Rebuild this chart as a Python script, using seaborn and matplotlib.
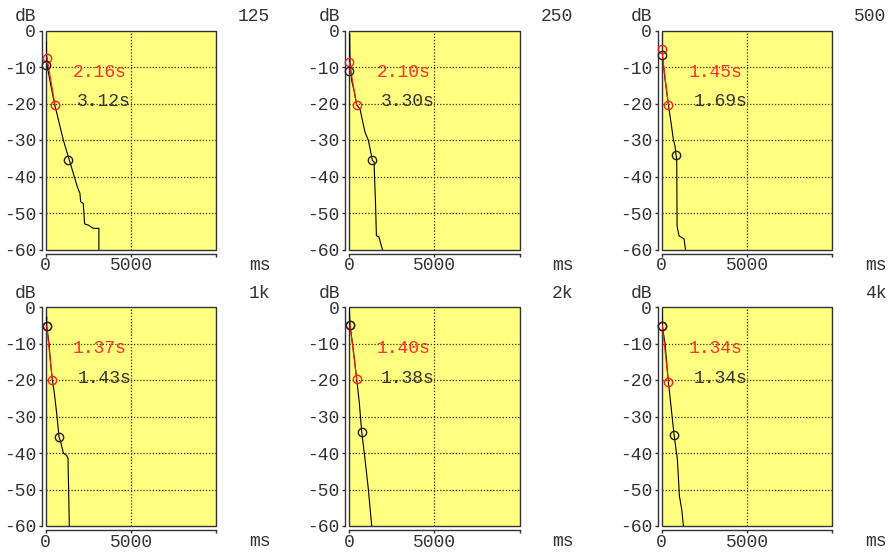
import matplotlib
matplotlib.use("Agg")
import matplotlib.pyplot as plt
import seaborn as sns

# octave bands and the two decay times printed in each panel
bands = ['125', '250', '500', '1k', '2k', '4k']
edt_s = [2.16, 2.10, 1.45, 1.37, 1.40, 1.34]
t30_s = [3.12, 3.30, 1.69, 1.43, 1.38, 1.34]

# decay curves (ms, dB)
ms_125 = [20, 80, 300, 507, 1034, 1326, 1618, 1852, 2008, 2047, 2204, 2243, 2282, 2496, 2789, 3120, 3120]
db_125 = [-3.0, -9.5, -15.0, -19.9, -30.0, -34.6, -39.1, -42.8, -44.6, -46.9, -47.4, -50.1, -53.0, -53.3, -54.2, -54.2, -60.0]
ms_250 = [39, 59, 157, 314, 451, 647, 745, 941, 1137, 1274, 1372, 1470, 1509, 1548, 1607, 1764, 1862, 1960]
db_250 = [-0.9, -8.7, -13.7, -16.9, -20.4, -21.5, -23.7, -27.9, -30.1, -33.3, -35.6, -36.0, -41.6, -46.1, -56.2, -56.6, -58.4, -60.0]
ms_500 = [0, 0, 39, 196, 392, 549, 686, 784, 843, 882, 902, 1019, 1313, 1392]
db_500 = [-0.2, -5.2, -6.6, -13.4, -20.3, -25.3, -29.9, -31.7, -34.2, -35.3, -53.6, -56.3, -57.1, -60.0]
ms_1k = [58, 58, 195, 292, 390, 507, 644, 780, 897, 1034, 1228, 1306, 1345, 1384]
db_1k = [-2.7, -5.2, -10.0, -15.5, -20.0, -23.6, -29.1, -35.5, -37.3, -40.0, -40.7, -41.4, -50.0, -60.0]
ms_2k = [20, 59, 255, 451, 608, 745, 941, 1137, 1333]
db_2k = [-0.5, -5.0, -11.8, -19.7, -26.4, -34.2, -41.8, -50.0, -60.0]
ms_4k = [0, 39, 196, 392, 549, 725, 921, 1039, 1176, 1274]
db_4k = [-0.9, -5.2, -10.0, -20.5, -27.3, -35.0, -41.8, -51.8, -55.5, -60.0]

# red (EDT) and black (T30) evaluation points
red_ms = [[78, 546], [20, 451], [0, 392], [58, 390], [59, 451], [39, 392]]
red_db = [[-7.4, -20.4], [-8.7, -20.4], [-5.2, -20.3], [-5.2, -20.0], [-5.0, -19.7], [-5.2, -20.5]]
blk_ms = [[20, 1326], [20, 1372], [39, 843], [58, 780], [59, 745], [39, 725]]
blk_db = [[-9.5, -35.5], [-11.0, -35.6], [-6.6, -34.2], [-5.2, -35.5], [-5.0, -34.2], [-5.2, -35.0]]

curves_ms = [ms_125, ms_250, ms_500, ms_1k, ms_2k, ms_4k]
curves_db = [db_125, db_250, db_500, db_1k, db_2k, db_4k]

sns.set_style("ticks")
plt.rcParams['font.family'] = ['Liberation Mono', 'DejaVu Sans Mono']
plt.rcParams['font.size'] = 13

W, H = 892, 553
fig = plt.figure(figsize=(W / 100, H / 100), dpi=100)
fig.patch.set_facecolor('white')

col_left = [45.7, 349.0, 661.7]
row_top = [30.5, 307.0]
ax_w, ax_h = 170.5, 219.0
txt = '#333333'

for i, band in enumerate(bands):
    r, c = divmod(i, 3)
    x0, y0 = col_left[c], row_top[r]
    ax = fig.add_axes([x0 / W, 1 - (y0 + ax_h) / H, ax_w / W, ax_h / H])
    ax.set_facecolor('#ffff80')
    ax.patch.set_edgecolor('#333333')
    ax.patch.set_linewidth(1.0)

    ax.set_xlim(0, 10000)
    ax.set_ylim(-60, 0)
    ax.set_xticks([0, 5000, 10000])
    ax.set_xticklabels(['0', '5000', ''])
    ax.set_yticks([0, -10, -20, -30, -40, -50, -60])
    ax.set_yticklabels(['0', '-10', '-20', '-30', '-40', '-50', '-60'])
    for y in [-10, -20, -30, -40, -50]:
        ax.axhline(y, color='#333300', ls=(0, (1, 1.5)), lw=0.9, zorder=1)
    ax.axvline(5000, color='#333300', ls=(0, (1, 1.5)), lw=0.9, zorder=1)

    sns.lineplot(x=curves_ms[i], y=curves_db[i], ax=ax, sort=False, estimator=None,
                 color='black', lw=0.8, zorder=3)
    sns.lineplot(x=red_ms[i], y=red_db[i], ax=ax, sort=False, estimator=None,
                 color='#ff2020', lw=0.8, zorder=4)
    ax.plot(red_ms[i], red_db[i], 'o', ms=6, mfc='none', mec='#ff2020', mew=1, zorder=5, clip_on=False)
    ax.plot(blk_ms[i], blk_db[i], 'o', ms=6, mfc='none', mec='#222222', mew=1, zorder=5, clip_on=False)

    ax.text(1600, -11.5, f'{edt_s[i]:.2f}s', color='#ff3030', fontsize=13, va='center', ha='left')
    ax.text(1850, -19.5, f'{t30_s[i]:.2f}s', color=txt, fontsize=13, va='center', ha='left')

    ax.set_xlabel('')
    ax.set_ylabel('')
    sns.despine(ax=ax, offset={'left': 3, 'bottom': 3})
    for s in ['left', 'bottom']:
        ax.spines[s].set_color('#333333')
        ax.spines[s].set_linewidth(1.0)
    ax.tick_params(axis='both', colors=txt, labelcolor=txt, length=2.5, width=1, labelsize=13)
    ax.tick_params(axis='y', pad=1.5)
    ax.tick_params(axis='x', pad=0)

    right = x0 + ax_w
    fig.text((x0 - 20) / W, 1 - (y0 - 14) / H, 'dB', color=txt, ha='center', va='center', fontsize=13)
    fig.text((right + 54) / W, 1 - (y0 - 14) / H, band, color=txt, ha='right', va='center', fontsize=13)
    fig.text((right + 54) / W, 1 - (y0 + ax_h + 16) / H, 'ms', color=txt, ha='right', va='center', fontsize=13)

fig.savefig('out.png', dpi=100)
